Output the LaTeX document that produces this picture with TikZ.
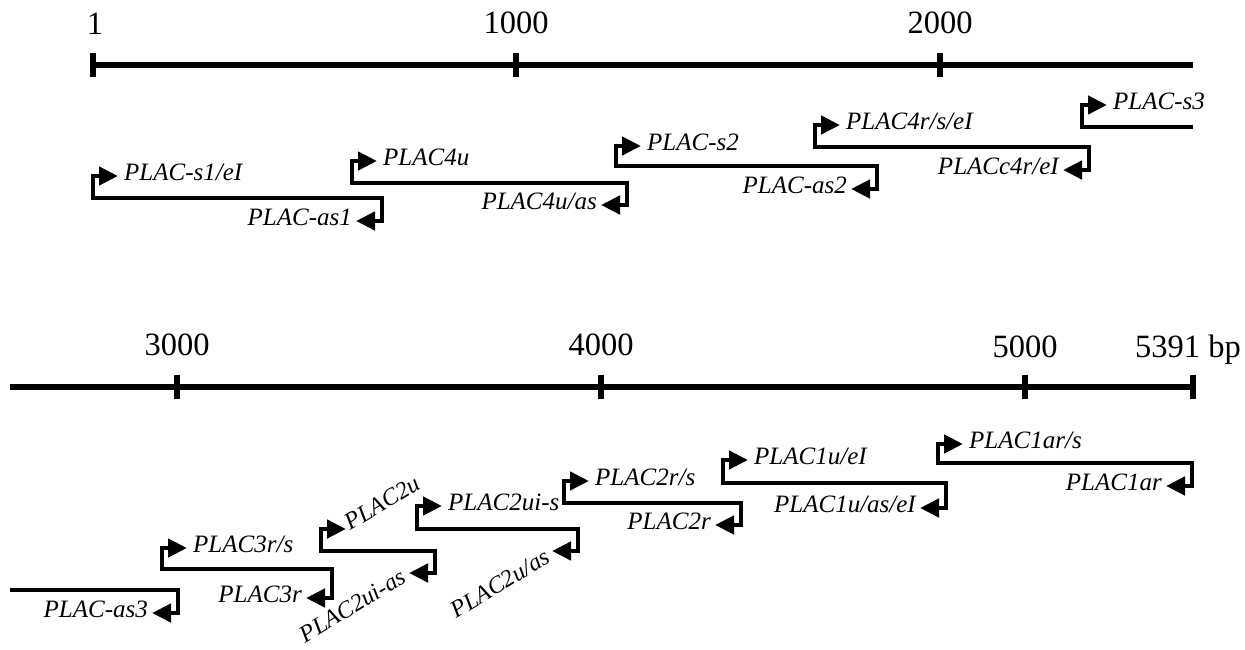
\documentclass[tikz,border=0pt]{standalone}
\usepackage{fontspec}
\setmainfont{Liberation Serif}
\usetikzlibrary{arrows.meta,calc}
\newcommand\labfont{\fontsize{25}{30}\selectfont\itshape}
\newcommand\rotfont{\fontsize{24}{29}\selectfont\itshape}
\newcommand\axfont{\fontsize{32.5}{39}\selectfont}
\tikzset{
  primer/.style={line width=4.5pt, line join=miter,
    {Triangle[length=19pt,width=18pt]}-{Triangle[length=19pt,width=18pt]}},
  fwdonly/.style={line width=4.5pt, line join=miter,
    {Triangle[length=19pt,width=18pt]}-},
  revonly/.style={line width=4.5pt, line join=miter,
    -{Triangle[length=19pt,width=18pt]}},
  axis/.style={line width=5.5pt},
  tick/.style={line width=5.5pt},
  lab/.style={font=\labfont, inner sep=0pt, text height=0.66em, text depth=0pt},
  fwdlab/.style={lab, anchor=west},
  revlab/.style={lab, anchor=east},
  rotlab/.style={lab, font=\rotfont, rotate=31},
  axlab/.style={font=\axfont, inner sep=0pt, text height=0.68em, text depth=0pt},
}
% id, xL, yTop, yH, xR, yBot
\newcommand\primerunit[6]{%
  \coordinate (f#1) at ({#2+25},#3);
  \coordinate (r#1) at ({#5-26},#6);
  \draw[primer] (f#1) -- (#2,#3) -- (#2,#4) -- (#5,#4) -- (#5,#6) -- (r#1);
}
\begin{document}
\begin{tikzpicture}[x=1pt,y=-1pt]
\useasboundingbox (0,0) rectangle (1245,650);
% ---------- top axis ----------
\coordinate (a1) at (93,65);
\coordinate (a1000) at (516,65);
\coordinate (a2000) at (940,65);
\coordinate (aend) at (1193,65);
\draw[axis] (a1) -- (aend);
\foreach \t in {a1,a1000,a2000}{\draw[tick] ($(\t)+(0,-12)$) -- ($(\t)+(0,12)$);}
\node[axlab] (n1) at ($(a1)+(2,-34)$) {1};
\node[axlab] (n1000) at ($(a1000)+(0,-35)$) {1000};
\node[axlab] (n2000) at ($(a2000)+(0,-35)$) {2000};
% ---------- bottom axis ----------
\coordinate (bstart) at (10,387);
\coordinate (b3000) at (177,387);
\coordinate (b4000) at (601,387);
\coordinate (b5000) at (1025,387);
\coordinate (b5391) at (1193,387);
\draw[axis] (bstart) -- (b5391);
\foreach \t in {b3000,b4000,b5000,b5391}{\draw[tick] ($(\t)+(0,-12)$) -- ($(\t)+(0,12)$);}
\node[axlab] (n3000) at ($(b3000)+(0,-35)$) {3000};
\node[axlab] (n4000) at ($(b4000)+(0,-35)$) {4000};
\node[axlab] (n5000) at ($(b5000)+(0,-33)$) {5000};
\node[axlab, anchor=west] (n5391) at (1135,354) {5391 bp};
% ---------- top row primers ----------
\primerunit{1}{93}{176}{198}{382}{221}
\node[fwdlab] (l1f) at ($(f1)+(6,1)$) {PLAC-s1/eI};
\node[revlab] (l1r) at ($(r1)+(-4,1)$) {PLAC-as1};
\primerunit{2}{352}{161}{183}{627}{205}
\node[fwdlab] (l2f) at ($(f2)+(6,1)$) {PLAC4u};
\node[revlab] (l2r) at ($(r2)+(-4,1)$) {PLAC4u/as};
\primerunit{3}{616}{146}{166}{877}{189}
\node[fwdlab] (l3f) at ($(f3)+(6,1)$) {PLAC-s2};
\node[revlab] (l3r) at ($(r3)+(-4,1)$) {PLAC-as2};
\primerunit{4}{815}{125}{147}{1089}{170}
\node[fwdlab] (l4f) at ($(f4)+(6,1)$) {PLAC4r/s/eI};
\node[revlab] (l4r) at ($(r4)+(-4,1)$) {PLACc4r/eI};
% PLAC-s3 (continues on second line)
\coordinate (f5) at (1107,105);
\coordinate (e5) at (1193,127);
\draw[fwdonly] (f5) -- (1082,105) -- (1082,127) -- (e5);
\node[fwdlab] (l5f) at ($(f5)+(6,1)$) {PLAC-s3};
% ---------- bottom row primers ----------
\coordinate (s6) at (10,590);
\coordinate (r6) at (152,613);
\draw[revonly] (s6) -- (178,590) -- (178,613) -- (r6);
\node[revlab] (l6r) at ($(r6)+(-4,1)$) {PLAC-as3};
\primerunit{7}{162}{548}{569}{332}{598}
\node[fwdlab] (l7f) at ($(f7)+(6,1)$) {PLAC3r/s};
\node[revlab] (l7r) at ($(r7)+(-4,1)$) {PLAC3r};
\primerunit{8}{321}{529}{551}{435}{573}
\node[rotlab, anchor=west] (l8f) at ($(f8)+(3,-1)$) {PLAC2u};
\node[rotlab, anchor=east] (l8r) at ($(r8)+(-3,6)$) {PLAC2ui-as};
\primerunit{9}{417}{506}{529}{578}{551}
\node[fwdlab] (l9f) at ($(f9)+(6,1)$) {PLAC2ui-s};
\node[rotlab, anchor=east] (l9r) at ($(r9)+(-2,8)$) {PLAC2u/as};
\primerunit{10}{564}{481}{503}{741}{525}
\node[fwdlab] (l10f) at ($(f10)+(6,1)$) {PLAC2r/s};
\node[revlab] (l10r) at ($(r10)+(-4,1)$) {PLAC2r};
\primerunit{11}{723}{460}{483}{946}{508}
\node[fwdlab] (l11f) at ($(f11)+(6,1)$) {PLAC1u/eI};
\node[revlab] (l11r) at ($(r11)+(-4,1)$) {PLAC1u/as/eI};
\primerunit{12}{938}{444}{463}{1192}{486}
\node[fwdlab] (l12f) at ($(f12)+(6,1)$) {PLAC1ar/s};
\node[revlab] (l12r) at ($(r12)+(-4,1)$) {PLAC1ar};
\end{tikzpicture}
\end{document}
